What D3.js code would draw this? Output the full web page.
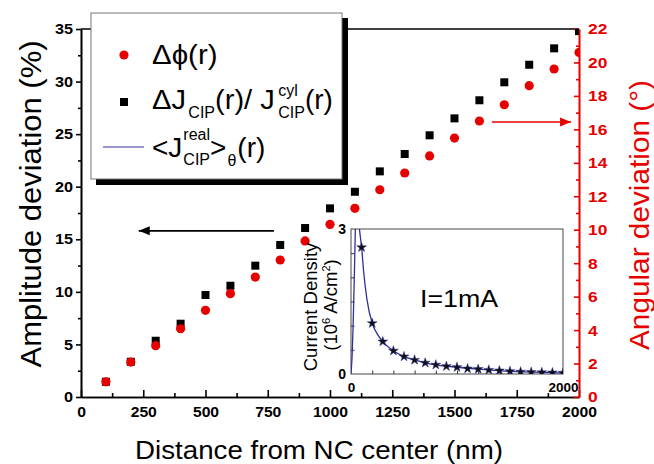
<!DOCTYPE html>
<html><head><meta charset="utf-8">
<script src="https://cdn.jsdelivr.net/npm/d3@7"></script>
<style>
body{margin:0;background:#fff}
svg{display:block}
text{font-family:"Liberation Sans",Arial,sans-serif}
</style></head>
<body>
<svg id="chart" width="654" height="464"></svg>
<script>
// ---- data ----
const distance = [100,200,300,400,500,600,700,800,900,1000,1100,1200,1300,1400,1500,1600,1700,1800,1900,2000];
const amplitudeDev = [1.45,3.35,5.35,6.97,9.70,10.58,12.49,14.46,16.07,17.94,19.52,21.46,23.11,24.89,26.50,28.22,29.93,31.60,33.16,34.8];
const angularDev = [0.91,2.09,3.07,4.08,5.18,6.18,7.17,8.19,9.33,10.32,11.28,12.39,13.39,14.41,15.48,16.50,17.47,18.61,19.61,20.6];
const xTicks = [0,250,500,750,1000,1250,1500,1750,2000];
const yLeftTicks = [0,5,10,15,20,25,30,35];
const yRightTicks = [0,2,4,6,8,10,12,14,16,18,20,22];
// inset
const insetR = [100,200,300,400,500,600,700,800,900,1000,1100,1200,1300,1400,1500,1600,1700,1800,1900,2000];
const insetJ = [2.62,1.05,0.67,0.48,0.36,0.29,0.23,0.19,0.16,0.14,0.11,0.10,0.083,0.07,0.056,0.045,0.038,0.032,0.028,0.022];
const curveR = [0,10,20,30,40,45,50,55,60,70,80,90,100,120,150,200,250,300,400,500,600,700,800,1000,1200,1500,1800,2000];
const curveJ = [0,0.35,1.0,1.9,2.9,3.4,3.6,3.7,3.6,3.3,3.0,2.8,2.62,2.1,1.55,1.05,0.82,0.67,0.48,0.36,0.29,0.23,0.19,0.14,0.10,0.056,0.032,0.022];
const insetXTicks = [0,2000];
const insetYTicks = [0,3];

const RED = "#e60000", BLUE = "#30309a";
const svg = d3.select("#chart");

const x = d3.scaleLinear([0,2000],[81,579]);
const yL = d3.scaleLinear([0,35],[397,29]);
const yR = d3.scaleLinear([0,22],[397,29]);

function stretch(sel,k){
  sel.each(function(){
    const w = this.getComputedTextLength();
    if(w>0) d3.select(this).attr("textLength",w*k).attr("lengthAdjust","spacingAndGlyphs");
  });
}

// clip
svg.append("clipPath").attr("id","plotclip").append("rect")
  .attr("x",81).attr("y",29).attr("width",498).attr("height",368);

// top frame
svg.append("line").attr("x1",81).attr("x2",579).attr("y1",29).attr("y2",29)
  .attr("stroke","#000").attr("stroke-width",1.6);

// axes
function styleAxis(g,color,fs){
  g.select(".domain").attr("stroke",color).attr("stroke-width",1.6);
  g.selectAll(".tick line").attr("stroke",color).attr("stroke-width",1.6);
  g.selectAll(".tick text").attr("fill",color).attr("font-size",fs).attr("font-weight","bold");
}
const gxMinor = svg.append("g").attr("transform","translate(0,397)")
  .call(d3.axisBottom(x).tickValues(d3.range(125,2000,250)).tickSize(-4).tickFormat("").tickSizeOuter(0));
styleAxis(gxMinor,"#000",14);
const gx = svg.append("g").attr("transform","translate(0,397)")
  .call(d3.axisBottom(x).tickValues(xTicks).tickSize(-7).tickPadding(10).tickSizeOuter(0).tickFormat(d3.format("d")));
styleAxis(gx,"#000",14);
stretch(gx.selectAll(".tick text"),1.12);

const gyMinor = svg.append("g").attr("transform","translate(81,0)")
  .call(d3.axisLeft(yL).tickValues(d3.range(2.5,35,5)).tickSize(3).tickFormat("").tickSizeOuter(0));
styleAxis(gyMinor,"#000",13);
const gy = svg.append("g").attr("transform","translate(81,0)")
  .call(d3.axisLeft(yL).tickValues(yLeftTicks).tickSize(5).tickPadding(3).tickSizeOuter(0));
styleAxis(gy,"#000",14.5);
stretch(gy.selectAll(".tick text"),1.12);

const grMinor = svg.append("g").attr("transform","translate(579,0)")
  .call(d3.axisRight(yR).tickValues(d3.range(1,22,2)).tickSize(-3).tickFormat("").tickSizeOuter(0));
styleAxis(grMinor,RED,14);
const gr = svg.append("g").attr("transform","translate(579,0)")
  .call(d3.axisRight(yR).tickValues(yRightTicks).tickSize(-5).tickPadding(9).tickSizeOuter(0));
styleAxis(gr,RED,15.5);
stretch(gr.selectAll(".tick text"),1.12);

// axis titles
svg.append("text").attr("x",319).attr("y",459).attr("text-anchor","middle")
  .attr("font-size",26).attr("textLength",368).attr("lengthAdjust","spacingAndGlyphs")
  .text("Distance from NC center (nm)");
svg.append("text").attr("transform","translate(41,204) rotate(-90)").attr("text-anchor","middle")
  .attr("font-size",30).attr("textLength",327).attr("lengthAdjust","spacingAndGlyphs")
  .text("Amplitude deviation (%)");
svg.append("text").attr("transform","translate(649,215) rotate(-90)").attr("text-anchor","middle")
  .attr("font-size",28.5).attr("fill",RED).attr("textLength",270).attr("lengthAdjust","spacingAndGlyphs")
  .text("Angular deviation (°)");

// data marks
const plot = svg.append("g").attr("clip-path","url(#plotclip)");
plot.selectAll("rect.sq").data(distance).join("rect").attr("class","sq")
  .attr("x",(d)=>x(d)-4).attr("y",(d,i)=>yL(amplitudeDev[i])-4)
  .attr("width",8).attr("height",8).attr("fill","#000");
plot.selectAll("circle.ci").data(distance).join("circle").attr("class","ci")
  .attr("cx",(d)=>x(d)).attr("cy",(d,i)=>yR(angularDev[i])).attr("r",4.6).attr("fill",RED);

// arrows
function arrow(x1,x2,yy,color){
  svg.append("line").attr("x1",x1).attr("x2",x2).attr("y1",yy).attr("y2",yy)
    .attr("stroke",color).attr("stroke-width",1.6);
  const dir = Math.sign(x2-x1);
  svg.append("path").attr("d",`M${x2},${yy} L${x2-dir*11},${yy-4.5} L${x2-dir*11},${yy+4.5} Z`).attr("fill",color);
}
arrow(x(775),x(232),yL(15.8),"#000");
arrow(x(1650),x(1968),yR(16.44),RED);

// inset
const ix = d3.scaleLinear([0,2000],[351,563]);
const iy = d3.scaleLinear([0,3],[374,229]);
svg.append("clipPath").attr("id","insetclip").append("rect")
  .attr("x",351).attr("y",229).attr("width",212).attr("height",145);
svg.append("rect").attr("x",351).attr("y",229).attr("width",212).attr("height",145)
  .attr("fill","#fff").attr("stroke","#666").attr("stroke-width",1.2);
const ixMinor = svg.append("g").attr("transform","translate(0,374)")
  .call(d3.axisBottom(ix).tickValues(d3.range(200,2000,200)).tickSize(-3.5).tickFormat("").tickSizeOuter(0));
ixMinor.select(".domain").remove();
ixMinor.selectAll(".tick line").attr("stroke","#333");
const iyMinor = svg.append("g").attr("transform","translate(351,0)")
  .call(d3.axisLeft(iy).tickValues([0.5,1,1.5,2,2.5]).tickSize(-3.5).tickFormat("").tickSizeOuter(0));
iyMinor.select(".domain").remove();
iyMinor.selectAll(".tick line").attr("stroke","#333");
const ixAx = svg.append("g").attr("transform","translate(0,374)")
  .call(d3.axisBottom(ix).tickValues(insetXTicks).tickSize(0).tickPadding(8).tickSizeOuter(0).tickFormat(d3.format("d")));
ixAx.select(".domain").remove();
ixAx.selectAll(".tick text").attr("font-size",13.5).attr("font-weight","bold").attr("fill","#000");
const iyAx = svg.append("g").attr("transform","translate(351,0)")
  .call(d3.axisLeft(iy).tickValues(insetYTicks).tickSize(0).tickPadding(5).tickSizeOuter(0).tickFormat(d3.format("d")));
iyAx.select(".domain").remove();
iyAx.selectAll(".tick text").attr("font-size",14).attr("font-weight","bold").attr("fill","#000");

const ig = svg.append("g").attr("clip-path","url(#insetclip)");
ig.append("path").datum(curveR.map((r,i)=>[r,curveJ[i]]))
  .attr("d",d3.line().x(d=>ix(d[0])).y(d=>iy(d[1])).curve(d3.curveMonotoneX))
  .attr("fill","none").attr("stroke",BLUE).attr("stroke-width",1.3);
ig.selectAll("path.star").data(insetR).join("path").attr("class","star")
  .attr("transform",(d,i)=>`translate(${ix(d)},${iy(insetJ[i])})`)
  .attr("d",d3.symbol(d3.symbolStar,30)).attr("fill","#111").attr("stroke",BLUE).attr("stroke-width",0.5);

svg.append("text").attr("x",459).attr("y",307).attr("text-anchor","middle").attr("font-size",24)
  .attr("textLength",78).attr("lengthAdjust","spacingAndGlyphs").text("I=1mA");
svg.append("text").attr("transform","translate(317,307) rotate(-90)").attr("text-anchor","middle")
  .attr("font-size",18.5).text("Current Density");
const t2 = svg.append("text").attr("transform","translate(337,305) rotate(-90)").attr("text-anchor","middle")
  .attr("font-size",18.5);
t2.append("tspan").text("(10");
t2.append("tspan").attr("font-size",11).attr("dy",-7).text("6");
t2.append("tspan").attr("dy",7).text(" A/cm");
t2.append("tspan").attr("font-size",11).attr("dy",-7).text("2");
t2.append("tspan").attr("dy",7).text(")");

// legend
svg.append("rect").attr("x",96).attr("y",18).attr("width",252).attr("height",167).attr("fill","#000");
svg.append("rect").attr("x",91).attr("y",13).attr("width",251).attr("height",166)
  .attr("fill","#fff").attr("stroke","#777").attr("stroke-width",1);
const lg = svg.append("g");
lg.append("circle").attr("cx",124).attr("cy",55).attr("r",4.6).attr("fill",RED);
lg.append("rect").attr("x",120).attr("y",98).attr("width",8).attr("height",8).attr("fill","#000");
lg.append("line").attr("x1",103).attr("x2",144).attr("y1",147).attr("y2",147).attr("stroke",BLUE).attr("stroke-width",1.2);

function rich(x0,base,segs){
  let cx = x0;
  segs.forEach(s=>{
    const parts = s.stack || [s];
    let w = 0;
    parts.forEach(p=>{
      const t = lg.append("text").attr("x",cx).attr("y",base+(p.dy||0)).attr("font-size",p.s).text(p.t);
      if(p.k){ const ww=t.node().getComputedTextLength(); t.attr("textLength",ww*p.k).attr("lengthAdjust","spacingAndGlyphs"); }
      w = Math.max(w,t.node().getComputedTextLength()*(p.k||1));
    });
    cx += w + (s.gap||0);
  });
}
rich(152,64,[{t:"Δϕ(r)",s:28,k:1.05}]);
rich(152,109,[{t:"ΔJ",s:28,k:1.04,gap:1},{t:"CIP",s:16,dy:9},{t:"(r)/ J",s:28,k:1.04,gap:1},
  {stack:[{t:"cyl",s:16,dy:-13},{t:"CIP",s:16,dy:9}]},{t:"(r)",s:28}]);
rich(152,157,[{t:"<J",s:28,gap:1},{stack:[{t:"real",s:16,dy:-17},{t:"CIP",s:16,dy:8}]},
  {t:">",s:28,gap:1},{t:"θ",s:16,dy:9,gap:1},{t:"(r)",s:28}]);
</script>
</body></html>
